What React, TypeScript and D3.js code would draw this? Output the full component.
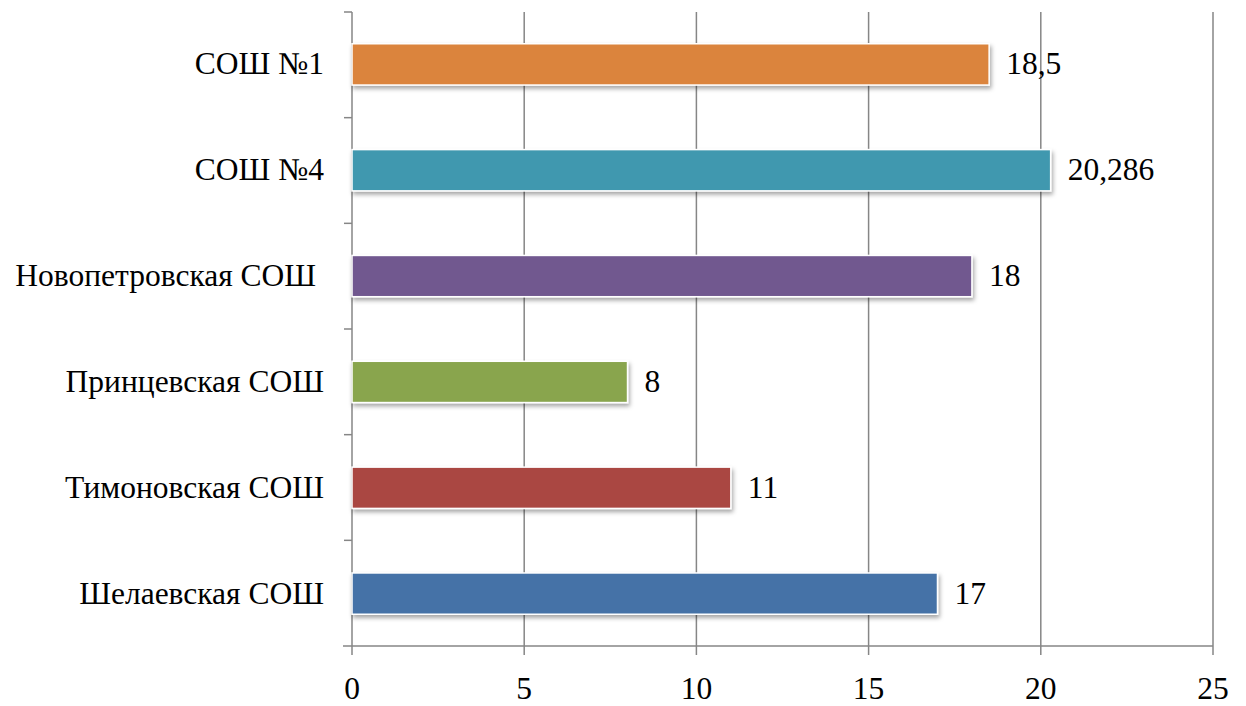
import React from "react";
import * as d3 from "d3";

const categories = ["СОШ №1", "СОШ №4", "Новопетровская СОШ ", "Принцевская СОШ", "Тимоновская СОШ", "Шелаевская СОШ"];
const values = [18.5, 20.286, 18, 8, 11, 17];
const valueLabels = ["18,5", "20,286", "18", "8", "11", "17"];
const colors = ["#DB843D", "#4198AF", "#71588F", "#89A54E", "#AA4643", "#4572A7"];
const xTicks = [0, 5, 10, 15, 20, 25];

export default function App() {
  const W = 1246, H = 706;
  const left = 352, right = 1213, top = 12, bottom = 646;
  const x = d3.scaleLinear().domain([0, 25]).range([left, right]);
  const y = d3.scaleBand<string>().domain(categories).range([top, bottom]).paddingInner(0.61).paddingOuter(0.3);
  const step = (bottom - top) / categories.length;
  const textStyle: React.CSSProperties = { fontFamily: "Liberation Serif, Times New Roman, serif", fontSize: "31.5px", whiteSpace: "pre" };
  const grid = "#868686";
  return (
    <svg width={W} height={H} style={{ position: "absolute", left: 0, top: 0 }}>
      <defs>
        <filter id="sh" x="-5%" y="-30%" width="115%" height="180%">
          <feDropShadow dx="1.5" dy="3" stdDeviation="2" floodColor="#000" floodOpacity="0.35" />
        </filter>
      </defs>
      <rect width={W} height={H} fill="#fff" />
      {xTicks.slice(1).map(t => (
        <line key={t} x1={x(t)} x2={x(t)} y1={top} y2={bottom + 9} stroke={grid} strokeWidth={1.5} />
      ))}
      <line x1={x(0)} x2={x(0)} y1={top} y2={bottom + 9} stroke={grid} strokeWidth={1.5} />
      <line x1={x(0) - 9} x2={right} y1={bottom} y2={bottom} stroke={grid} strokeWidth={1.5} />
      {d3.range(categories.length).map(i => (
        <line key={i} x1={x(0) - 8} x2={x(0)} y1={top + i * step} y2={top + i * step} stroke={grid} strokeWidth={1.5} />
      ))}
      {categories.map((c, i) => (
        <g key={c}>
          <rect x={x(0)} y={y(c)!} width={x(values[i]) - x(0)} height={y.bandwidth()} fill={colors[i]} stroke="#fff" strokeWidth={1.5} filter="url(#sh)" />
          <text x={x(values[i]) + 17} y={y(c)! + y.bandwidth() / 2 + 10} style={textStyle} fill="#000">{valueLabels[i]}</text>
          <text x={324} y={y(c)! + y.bandwidth() / 2 + 10} textAnchor="end" style={textStyle} fill="#000">{c}</text>
        </g>
      ))}
      {xTicks.map(t => (
        <text key={t} x={x(t)} y={699} textAnchor="middle" style={textStyle} fill="#000">{t}</text>
      ))}
    </svg>
  );
}
